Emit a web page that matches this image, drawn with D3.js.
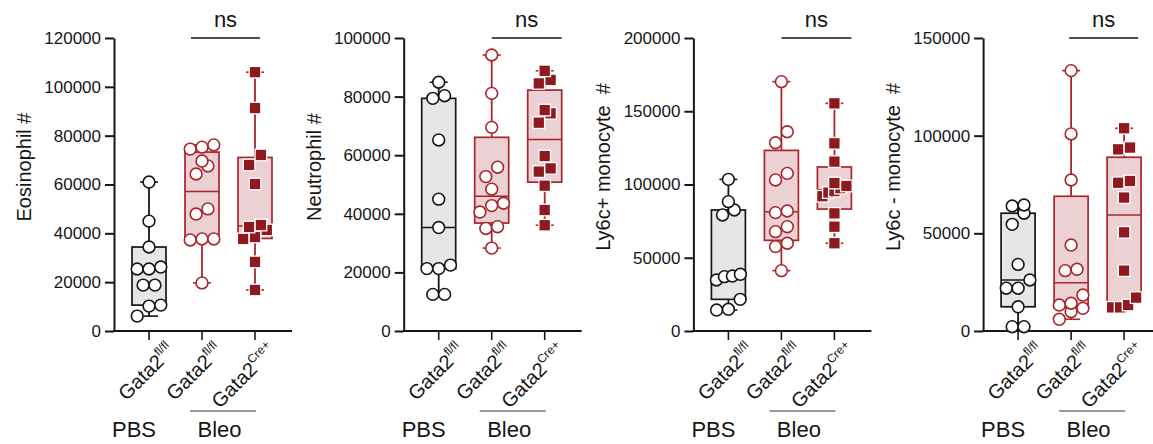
<!DOCTYPE html>
<html>
<head>
<meta charset="utf-8">
<script src="https://cdn.jsdelivr.net/npm/d3@7"></script>
<style>
  body { margin: 0; background: #fff; }
  svg { display: block; font-family: "Liberation Sans", Arial, sans-serif; }
  text { white-space: pre; }
</style>
</head>
<body>
<script>
const groupNames = ["PBS fl/fl", "Bleo fl/fl", "Bleo Cre+"]
const groupSup = ["fl/fl", "fl/fl", "Cre+"]

const eosPbsFl = [61000, 45000, 34400, 26200, 25400, 25400, 18800, 18800, 10600, 10200, 6100]
const eosBleoFl = [76200, 75300, 74500, 69600, 67600, 64300, 50000, 47900, 37700, 37700, 37300, 19700]
const eosBleoCre = [106000, 91300, 72100, 68000, 60200, 43400, 42600, 41400, 38500, 37700, 28300, 16800]

const neuPbsFl = [84900, 80300, 79400, 65200, 45000, 35300, 22500, 21300, 21300, 12500, 12500]
const neuBleoFl = [94200, 81100, 69500, 55900, 52700, 48400, 43600, 42800, 40600, 35600, 35000, 28300]
const neuBleoCre = [88800, 85700, 84500, 75400, 74300, 71100, 59700, 55500, 54400, 49600, 41300, 36100]

const hiPbsFl = [103500, 88300, 82600, 79200, 38700, 37500, 37100, 34800, 21600, 14800, 14300]
const hiBleoFl = [170200, 136000, 128500, 107600, 103100, 81900, 80800, 71200, 67800, 59900, 57600, 41200]
const hiBleoCre = [155400, 128100, 115600, 101000, 99000, 97500, 95500, 94500, 92000, 80300, 71200, 59900]

const loPbsFl = [64500, 64000, 60300, 54600, 34100, 26100, 21900, 21900, 12400, 2200, 2200]
const loBleoFl = [133300, 100900, 77300, 44000, 31600, 30900, 18400, 14200, 13300, 11600, 9900, 6000]
const loBleoCre = [103800, 93900, 93000, 76800, 75900, 68300, 50500, 30900, 17100, 13300, 12100, 12100]

const panelLabels = ["Eosinophil #", "Neutrophil #", "Ly6c+ monocyte  #", "Ly6c - monocyte  #"]
const panelMax = [120000, 100000, 200000, 150000]
const panelStep = [20000, 20000, 50000, 50000]
const panelValues = [
  [eosPbsFl, eosBleoFl, eosBleoCre],
  [neuPbsFl, neuBleoFl, neuBleoCre],
  [hiPbsFl, hiBleoFl, hiBleoCre],
  [loPbsFl, loBleoFl, loBleoCre]
]
const sigLabel = "ns"

const ink = "#161616", red = "#a8262c", darkRed = "#8e1a1f", pink = "#ebd1d3", gray = "#e6e6e6"
const boxStroke = [ink, red, red], boxFill = [gray, pink, pink]
const bracketPad = [[-11, 5], [0, 17], [0, 17], [-2, 14]]
const labelShift = [5, 0, 0]

const plotTop = 38, plotBottom = 331, boxW = 34

const svg = d3.select("body").append("svg").attr("width", 1153).attr("height", 444)

const groupX = d3.scalePoint().domain(groupNames).range([35, 141])

// quartiles the way Prism does it: position (n+1)p
const quart = (sorted, p) => {
  const pos = (sorted.length + 1) * p, lo = Math.floor(pos), f = pos - lo
  if (lo < 1) return sorted[0]
  if (lo >= sorted.length) return sorted[sorted.length - 1]
  return sorted[lo - 1] + f * (sorted[lo] - sorted[lo - 1])
}

// rows of points that overlap vertically are spread symmetrically
const swarm = (values, y) => {
  const pts = values.map(v => ({v, y: y(v)})).sort((a, b) => b.y - a.y)
  const rows = []
  pts.forEach(p => {
    const row = rows[rows.length - 1]
    if (row && row[0].y - p.y < 11.5) row.push(p)
    else rows.push([p])
  })
  rows.forEach(row => {
    const k = row.length, step = k > 1 ? Math.min(11.8, 24 / (k - 1)) : 0
    row.forEach((p, i) => p.dx = (i - (k - 1) / 2) * step)
  })
  return pts
}

panelValues.forEach((vals, pi) => {
  const left = 114 + pi * 289.7
  const g = svg.append("g").attr("transform", `translate(${left},0)`)

  const y = d3.scaleLinear().domain([0, panelMax[pi]]).range([plotBottom, plotTop])

  const yAxis = g.append("g")
    .call(d3.axisLeft(y).tickValues(d3.range(0, panelMax[pi] + 1, panelStep[pi]))
      .tickSize(9).tickSizeOuter(0).tickPadding(4).tickFormat(d3.format("d")))
  yAxis.selectAll("path, line").attr("stroke", ink).attr("stroke-width", 2)
  yAxis.selectAll("text").attr("fill", ink).style("font-size", "17px")
    .style("font-family", "'Liberation Sans', Arial, sans-serif")

  g.append("line").attr("x1", -1).attr("x2", 178).attr("y1", plotBottom).attr("y2", plotBottom)
    .attr("stroke", ink).attr("stroke-width", 2)
  g.selectAll(".xtick").data(groupNames).enter().append("line")
    .attr("x1", d => groupX(d)).attr("x2", d => groupX(d))
    .attr("y1", plotBottom).attr("y2", plotBottom + 9)
    .attr("stroke", ink).attr("stroke-width", 1.6)

  g.append("text")
    .attr("transform", `translate(-83,167) rotate(-90)`)
    .attr("text-anchor", "middle").attr("fill", ink).style("font-size", "20px")
    .text(panelLabels[pi])

  vals.forEach((values, gi) => {
    const cx = groupX(groupNames[gi])
    const sorted = values.slice().sort(d3.ascending)
    const q1 = quart(sorted, 0.25), med = quart(sorted, 0.5), q3 = quart(sorted, 0.75)
    const [lo, hi] = d3.extent(values)
    const col = boxStroke[gi]

    g.append("rect")
      .attr("x", cx - boxW / 2).attr("width", boxW)
      .attr("y", y(q3)).attr("height", y(q1) - y(q3))
      .attr("fill", boxFill[gi]).attr("stroke", col).attr("stroke-width", 1.7)
    g.append("line").attr("x1", cx - boxW / 2).attr("x2", cx + boxW / 2)
      .attr("y1", y(med)).attr("y2", y(med)).attr("stroke", col).attr("stroke-width", 1.5)
    g.append("line").attr("x1", cx).attr("x2", cx).attr("y1", y(hi)).attr("y2", y(q3))
      .attr("stroke", col).attr("stroke-width", 1.8)
    g.append("line").attr("x1", cx).attr("x2", cx).attr("y1", y(q1)).attr("y2", y(lo))
      .attr("stroke", col).attr("stroke-width", 1.8)
    g.selectAll(null).data([lo, hi]).enter().append("line")
      .attr("x1", cx - 9).attr("x2", cx + 9)
      .attr("y1", d => y(d)).attr("y2", d => y(d))
      .attr("stroke", col).attr("stroke-width", 1.6)

    const pts = swarm(values, y)
    if (gi < 2) {
      g.selectAll(null).data(pts).enter().append("circle")
        .attr("cx", d => cx + d.dx).attr("cy", d => d.y).attr("r", 5.9)
        .attr("fill", "#fff").attr("stroke", col).attr("stroke-width", 1.6)
    } else {
      g.selectAll(null).data(pts).enter().append("rect")
        .attr("x", d => cx + d.dx - 5.8).attr("y", d => d.y - 5.8)
        .attr("width", 11.6).attr("height", 11.6)
        .attr("fill", darkRed).attr("stroke", "#fff").attr("stroke-width", 1.3)
    }

    const lab = g.append("text")
      .attr("transform", `translate(${cx + 22 + labelShift[gi]},352) rotate(-45)`)
      .attr("text-anchor", "end").attr("fill", ink).style("font-size", "20px")
    lab.append("tspan").text("Gata2")
    lab.append("tspan").attr("dy", -9).style("font-size", "12px").text(groupSup[gi])
  })

  const bx1 = groupX(groupNames[1]) + bracketPad[pi][0], bx2 = groupX(groupNames[2]) + bracketPad[pi][1]
  g.append("line").attr("x1", bx1).attr("x2", bx2).attr("y1", plotTop).attr("y2", plotTop)
    .attr("stroke", ink).attr("stroke-width", 1.5)
  g.append("text").attr("x", (bx1 + bx2) / 2).attr("y", 27)
    .attr("text-anchor", "middle").attr("fill", ink).style("font-size", "22px").text(sigLabel)

  const t1 = groupX(groupNames[0]), t2 = groupX(groupNames[1]), t3 = groupX(groupNames[2])
  g.append("line").attr("x1", t2 - 12).attr("x2", t3 + 1).attr("y1", 411).attr("y2", 411)
    .attr("stroke", "#333").attr("stroke-width", 1.2)
  g.append("text").attr("x", t1 - 15).attr("y", 437).attr("text-anchor", "middle")
    .attr("fill", ink).style("font-size", "22px").text("PBS")
  g.append("text").attr("x", (t2 + t3) / 2 - 9).attr("y", 437).attr("text-anchor", "middle")
    .attr("fill", ink).style("font-size", "22px").text("Bleo")
})
</script>
</body>
</html>
